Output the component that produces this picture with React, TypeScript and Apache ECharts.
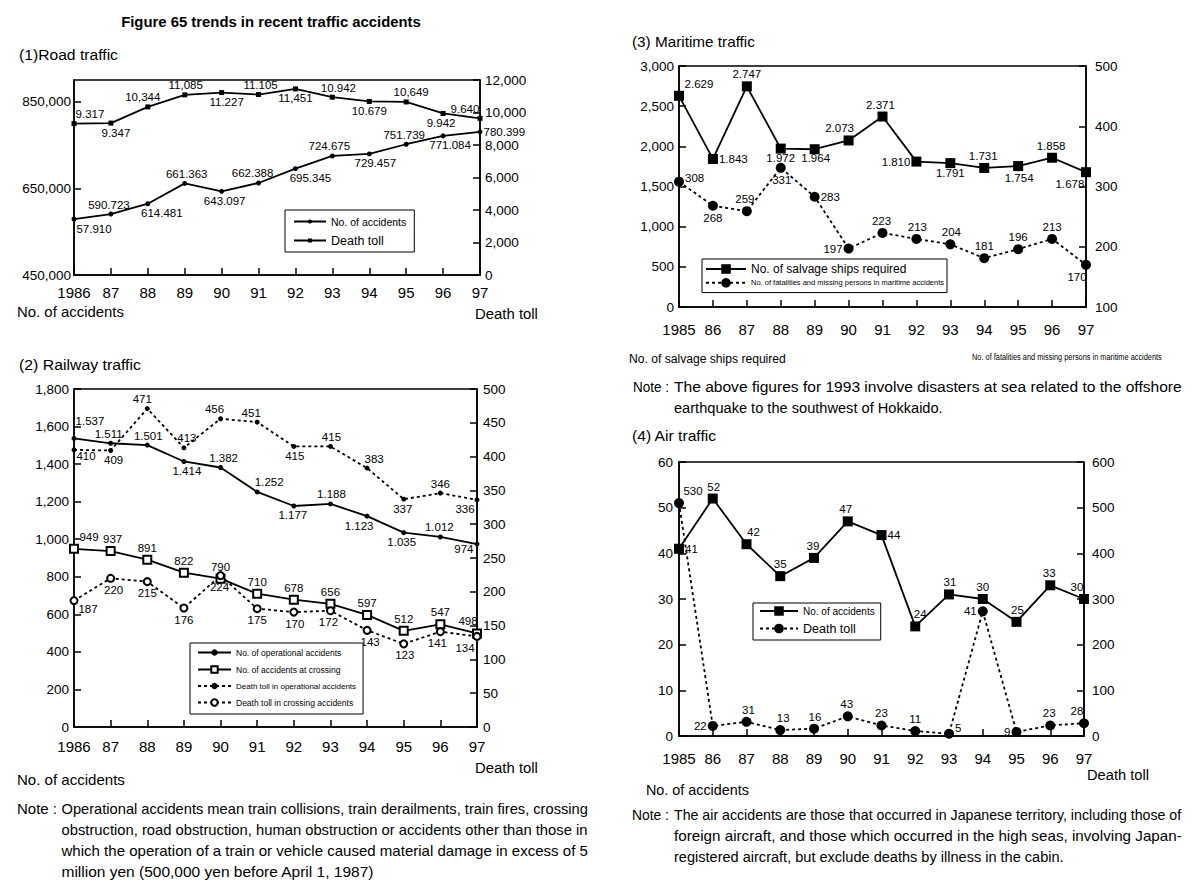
import React, { useEffect, useRef } from 'react';
import * as echarts from 'echarts';

const FONT = "'Liberation Sans', Arial, sans-serif";

// ---------- (1) Road traffic ----------
const roadYears = ['1986', '87', '88', '89', '90', '91', '92', '93', '94', '95', '96', '97'];
const roadAccidents = [579190, 590723, 614481, 661363, 643097, 662388, 695345, 724675, 729457, 751739, 771084, 780399];
const roadAccidentLabels = ['57.910', '590.723', '614.481', '661.363', '643.097', '662.388', '695.345', '724.675', '729.457', '751.739', '771.084', '780.399'];
const roadDeaths = [9317, 9347, 10344, 11085, 11227, 11105, 11451, 10942, 10679, 10649, 9942, 9640];
const roadDeathLabels = ['9.317', '9.347', '10,344', '11,085', '11.227', '11.105', '11,451', '10.942', '10.679', '10,649', '9.942', '9.640'];

// ---------- (2) Railway traffic ----------
const railYears = ['1986', '87', '88', '89', '90', '91', '92', '93', '94', '95', '96', '97'];
const railOperational = [1537, 1511, 1501, 1414, 1382, 1252, 1177, 1188, 1123, 1035, 1012, 974];
const railOperationalLabels = ['1.537', '1.511', '1.501', '1.414', '1.382', '1.252', '1.177', '1.188', '1.123', '1.035', '1.012', '974'];
const railCrossing = [949, 937, 891, 822, 790, 710, 678, 656, 597, 512, 547, 498];
const railOpDeaths = [410, 409, 471, 413, 456, 451, 415, 415, 383, 337, 346, 336];
const railCrossDeaths = [187, 220, 215, 176, 224, 175, 170, 172, 143, 123, 141, 134];

// ---------- (3) Maritime traffic ----------
const seaYears = ['1985', '86', '87', '88', '89', '90', '91', '92', '93', '94', '95', '96', '97'];
const seaSalvage = [2629, 1843, 2747, 1972, 1964, 2073, 2371, 1810, 1791, 1731, 1754, 1858, 1678];
const seaSalvageLabels = ['2.629', '1.843', '2.747', '1.972', '1.964', '2.073', '2.371', '1.810', '1.791', '1.731', '1.754', '1.858', '1.678'];
const seaFatalities = [308, 268, 259, 331, 283, 197, 223, 213, 204, 181, 196, 213, 170];

// ---------- (4) Air traffic ----------
const airYears = ['1985', '86', '87', '88', '89', '90', '91', '92', '93', '94', '95', '96', '97'];
const airAccidents = [41, 52, 42, 35, 39, 47, 44, 24, 31, 30, 25, 33, 30];
const airDeaths = [510, 22, 31, 13, 16, 43, 23, 11, 5, 273, 9, 23, 28];
const airDeathLabels = ['530', '22', '31', '13', '16', '43', '23', '11', '5', '41', '9', '23', '28'];

// ---------- label placement (style only) ----------
type P = [string, number, number];
const roadDeathPos: P[] = [['top', 16, 0], ['bottom', 5, 0], ['top', -5, 0], ['top', 1, 0], ['bottom', 5, 0], ['top', 2, 0], ['bottom', 0, 0], ['top', 6, 0], ['bottom', 0, 0], ['top', 5, 0], ['bottom', -2, 0], ['top', -15, 0]];
const roadAccPos: P[] = [['bottom', 20, 0], ['top', -2, 0], ['bottom', 14, 0], ['top', 2, 0], ['bottom', 3, 0], ['top', -6, 0], ['bottom', 15, 0], ['top', -3, 0], ['bottom', 6, 0], ['top', -2, 0], ['bottom', 7, 0], ['right', 0, 0]];
const railOpPos: P[] = [['top', 16, -8], ['top', -2, 0], ['top', 1, 0], ['bottom', 3, 0], ['top', 3, 0], ['top', 12, 0], ['bottom', -1, 0], ['top', 1, 0], ['bottom', -8, 0], ['bottom', -2, 0], ['top', -1, 0], ['left', 0, 5]];
const railCrossPos: P[] = [['top', 15, 0], ['top', 2, 0], ['top', 0, 0], ['top', 0, 0], ['top', 0, 0], ['top', 0, 0], ['top', 0, 0], ['top', 0, 0], ['top', 0, 0], ['top', 0, 0], ['top', 0, 0], ['top', -9, 0]];
const railOpDeathPos: P[] = [['bottom', 12, -3], ['bottom', 3, 0], ['top', -5, 0], ['top', 3, 0], ['top', -6, 0], ['top', -6, 0], ['bottom', 1, 0], ['top', 1, 0], ['top', 7, 0], ['bottom', -1, 0], ['top', 0, 0], ['bottom', -12, 0]];
const railCrossDeathPos: P[] = [['bottom', 14, -3], ['bottom', 3, 0], ['bottom', 0, 0], ['bottom', 0, 0], ['bottom', -1, 0], ['bottom', 0, 0], ['bottom', 1, 0], ['bottom', -2, 0], ['bottom', 3, 0], ['bottom', 1, 0], ['bottom', -3, 0], ['bottom', -12, 0]];
const seaSalvagePos: P[] = [['top', 20, 0], ['right', 0, 0], ['top', 0, 0], ['bottom', 0, -3], ['bottom', 1, -3], ['top', -9, 0], ['top', -2, 0], ['left', 0, 0], ['bottom', 0, -2], ['top', -1, 0], ['bottom', 1, 0], ['top', -1, 0], ['bottom', -16, 0]];
const seaFatalPos: P[] = [['right', 0, -4], ['bottom', 0, 0], ['top', -2, 0], ['bottom', 1, 0], ['right', 0, 0], ['left', 0, 0], ['top', -1, 0], ['top', 1, 0], ['top', 1, 0], ['top', 0, 0], ['top', 0, 0], ['top', 0, 0], ['bottom', -9, 0]];
const airAccPos: P[] = [['right', 0, 0], ['top', 1, 0], ['top', 7, 0], ['top', 0, 0], ['top', -1, 0], ['top', -2, 0], ['right', 0, 0], ['top', 5, 0], ['top', 1, 0], ['top', 0, 0], ['top', 1, 0], ['top', -1, 0], ['top', -7, 0]];
const airDeathPos: P[] = [['top', 14, 0], ['left', 0, 0], ['top', 2, 0], ['top', 3, 0], ['top', 1, 0], ['top', -1, 0], ['top', 0, 0], ['top', 0, 0], ['right', 0, -6], ['left', 0, 0], ['left', 0, 0], ['top', -1, 0], ['top', -7, 0]];

const LEGEND_TEXT: Record<string, string> = {
  roadAcc: 'No. of accidents',
  roadDeath: 'Death toll',
  railOp: 'No. of operational accidents',
  railCross: 'No. of accidents at crossing',
  railOpDeath: 'Death toll in operational accidents',
  railCrossDeath: 'Death toll in crossing accidents',
  seaSalvage: 'No. of salvage ships required',
  seaFatal: 'No. of fatalities and missing persons in maritime accidents',
  airAcc: 'No. of accidents',
  airDeath: 'Death toll',
};

const fmt = (v: number) => v.toLocaleString('en-US');

let measureCtx: CanvasRenderingContext2D | null = null;
function measure(text: string, font: string): number {
  try {
    if (!measureCtx) measureCtx = document.createElement('canvas').getContext('2d');
    if (!measureCtx) return 0;
    measureCtx.font = font;
    return measureCtx.measureText(text).width;
  } catch (e) {
    return 0;
  }
}

function xAxis(gridIndex: number, data: string[], margin: number) {
  return {
    type: 'category', gridIndex, data, boundaryGap: false,
    axisLine: { lineStyle: { color: '#000', width: 1.5 } },
    axisTick: { inside: true, length: 7, alignWithLabel: true, lineStyle: { color: '#000', width: 1.5 } },
    axisLabel: { color: '#000', fontSize: 15, fontFamily: FONT, margin, interval: 0 },
    splitLine: { show: false },
  };
}

function yAxis(gridIndex: number, position: string, min: number, max: number, interval: number, margin: number, extra: any = {}) {
  return {
    type: 'value', gridIndex, position, min, max, interval,
    axisLine: { show: true, lineStyle: { color: '#000', width: 1.5 } },
    axisTick: { show: true, inside: true, length: 7, lineStyle: { color: '#000', width: 1.5 } },
    axisLabel: { color: '#000', fontSize: 13.5, fontFamily: FONT, margin, formatter: fmt, ...(extra.axisLabel || {}) },
    splitLine: { show: false },
  };
}

function line(name: string, xi: number, yi: number, values: number[], labels: string[], pos: P[], o: any) {
  return {
    type: 'line', name, xAxisIndex: xi, yAxisIndex: yi,
    data: values.map((v, i) => ({ value: v, label: { position: pos[i][0], offset: [pos[i][1], pos[i][2]] } })),
    symbol: o.symbol, symbolSize: o.size, showAllSymbol: true,
    lineStyle: { color: '#000', width: 1.8, type: o.dash ? [3, 3] : 'solid' },
    itemStyle: { color: '#000', borderWidth: 1.5 },
    label: { show: true, color: '#000', fontSize: 11.5, fontFamily: FONT, distance: 1, formatter: (p: any) => labels[p.dataIndex] },
    emphasis: { disabled: true },
  };
}

function legend(left: number, top: number, names: string[], sizes: number[], o: any) {
  return {
    left, top, orient: 'vertical', selectedMode: false,
    backgroundColor: '#fff', borderColor: '#000', borderWidth: 1,
    padding: o.padding, itemGap: o.gap,
    itemWidth: o.iw, itemHeight: o.ih,
    textStyle: { color: '#000', fontFamily: FONT },
    formatter: (n: string) => LEGEND_TEXT[n],
    data: names.map((n, i) => ({ name: n, textStyle: { fontSize: sizes[i], color: '#000', fontFamily: FONT } })),
  };
}

// text positioned at (x, y); if w is given the text is horizontally scaled to that width
function txt(text: string, x: number, y: number, size: number, w?: number, extra: any = {}) {
  const weight = extra.weight || 'normal';
  let scaleX = 1;
  if (w) {
    const m = measure(text, `${weight} ${size}px 'Liberation Sans'`);
    if (m > 0) scaleX = w / m;
  }
  return {
    type: 'text', x, y, silent: true, scaleX,
    style: {
      text, fill: '#000', fontSize: size, fontFamily: FONT, fontWeight: weight,
      align: extra.align || 'left', textAlign: extra.align || 'left', verticalAlign: 'middle', textVerticalAlign: 'middle',
    },
  };
}

export default function App() {
  const ref = useRef<HTMLDivElement>(null);
  useEffect(() => {
    const chart = echarts.init(ref.current!, null, { renderer: 'svg' });
    const option: any = {
      animation: false,
      backgroundColor: '#fff',
      grid: [
        { left: 74, top: 80, width: 406, height: 195, show: true, borderColor: '#000', borderWidth: 1.5 },
        { left: 74, top: 389, width: 403, height: 338, show: true, borderColor: '#000', borderWidth: 1.5 },
        { left: 679, top: 66, width: 407, height: 241, show: true, borderColor: '#000', borderWidth: 1.5 },
        { left: 679, top: 462, width: 405, height: 274, show: true, borderColor: '#000', borderWidth: 1.5 },
      ],
      xAxis: [xAxis(0, roadYears, 10), xAxis(1, railYears, 12), xAxis(2, seaYears, 15), xAxis(3, airYears, 15)],
      yAxis: [
        yAxis(0, 'left', 450000, 900000, 200000, 3, { axisLabel: { showMaxLabel: false } }),
        yAxis(0, 'right', 0, 12000, 2000, 5),
        yAxis(1, 'left', 0, 1800, 200, 5),
        yAxis(1, 'right', 0, 500, 50, 6),
        yAxis(2, 'left', 0, 3000, 500, 5),
        yAxis(2, 'right', 100, 500, 100, 9),
        yAxis(3, 'left', 0, 60, 10, 6),
        yAxis(3, 'right', 0, 600, 100, 8),
      ],
      legend: [
        legend(285, 210, ['roadAcc', 'roadDeath'], [10.5, 12.5], { gap: 7, iw: 32, ih: 5, padding: [6, 8, 5, 8] }),
        legend(190, 643, ['railOp', 'railCross', 'railOpDeath', 'railCrossDeath'], [8.5, 8.5, 8, 8.5], { gap: 8, iw: 33, ih: 8, padding: [5, 7, 7, 7] }),
        legend(702, 259, ['seaSalvage', 'seaFatal'], [12, 7.5], { gap: 3, iw: 40, ih: 12, padding: [4, 3, 5, 3] }),
        legend(753, 603, ['airAcc', 'airDeath'], [10, 12.5], { gap: 6, iw: 38, ih: 12, padding: [3, 6, 5, 6] }),
      ],
      series: [
        line('roadAcc', 0, 0, roadAccidents, roadAccidentLabels, roadAccPos, { symbol: 'circle', size: 5 }),
        line('roadDeath', 0, 1, roadDeaths, roadDeathLabels, roadDeathPos, { symbol: 'rect', size: 5 }),
        line('railOp', 1, 2, railOperational, railOperationalLabels, railOpPos, { symbol: 'circle', size: 5 }),
        line('railCross', 1, 2, railCrossing, railCrossing.map(String), railCrossPos, { symbol: 'emptyRect', size: 8 }),
        line('railOpDeath', 1, 3, railOpDeaths, railOpDeaths.map(String), railOpDeathPos, { symbol: 'circle', size: 5, dash: true }),
        line('railCrossDeath', 1, 3, railCrossDeaths, railCrossDeaths.map(String), railCrossDeathPos, { symbol: 'emptyCircle', size: 7, dash: true }),
        line('seaSalvage', 2, 4, seaSalvage, seaSalvageLabels, seaSalvagePos, { symbol: 'rect', size: 10 }),
        line('seaFatal', 2, 5, seaFatalities, seaFatalities.map(String), seaFatalPos, { symbol: 'circle', size: 10, dash: true }),
        line('airAcc', 3, 6, airAccidents, airAccidents.map(String), airAccPos, { symbol: 'rect', size: 10 }),
        line('airDeath', 3, 7, airDeaths, airDeathLabels, airDeathPos, { symbol: 'circle', size: 10, dash: true }),
      ],
      graphic: [
        txt('Figure 65 trends in recent traffic accidents', 271, 21, 15, 300, { weight: 'bold', align: 'center' }),
        txt('(1)Road traffic', 19, 55, 15, 99),
        txt('No. of accidents', 17, 311, 15, 107),
        txt('Death toll', 475, 313, 15, 63),
        txt('(2) Railway traffic', 19, 365, 15, 122),
        txt('Death toll', 475, 767, 15, 63),
        txt('No. of accidents', 17, 780, 15, 108),
        txt('Note :', 17, 809, 14, 40),
        txt('Operational accidents mean train collisions, train derailments, train fires, crossing', 61.5, 809, 14, 527),
        txt('obstruction, road obstruction, human obstruction or accidents other than those in', 61.5, 830, 14, 527),
        txt('which the operation of a train or vehicle caused material damage in excess of 5', 61.5, 851, 14, 527),
        txt('million yen (500,000 yen before April 1, 1987)', 61.5, 872, 14, 313),
        txt('(3) Maritime traffic', 632, 42, 15, 123),
        txt('No. of salvage ships required', 629, 359, 12, 157),
        txt('No. of fatalities and missing persons in maritime accidents', 972, 357, 9.5, 190),
        txt('Note :', 633, 387, 14, 36),
        txt('The above figures for 1993 involve disasters at sea related to the offshore', 674, 387, 14, 508),
        txt('earthquake to the southwest of Hokkaido.', 674, 408, 14, 269),
        txt('(4) Air traffic', 632, 436, 15, 85),
        txt('Death toll', 1087, 775, 15, 62),
        txt('No. of accidents', 646, 790, 15, 103),
        txt('Note :', 632, 815, 14, 37),
        txt('The air accidents are those that occurred in Japanese territory, including those of', 674, 815, 14, 508),
        txt('foreign aircraft, and those which occurred in the high seas, involving Japan-', 674, 836, 14, 508),
        txt('registered aircraft, but exclude deaths by illness in the cabin.', 674, 857, 14, 390),
      ],
    };
    chart.setOption(option);
    return () => chart.dispose();
  }, []);
  return <div ref={ref} style={{ position: 'absolute', left: 0, top: 0, width: 1195, height: 892, background: '#fff' }} />;
}
